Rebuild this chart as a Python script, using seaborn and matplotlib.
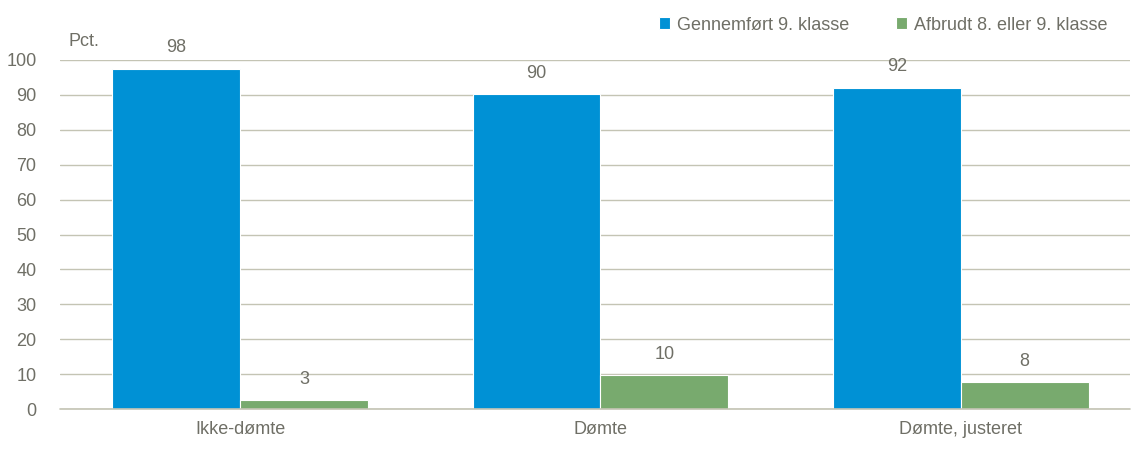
import matplotlib
matplotlib.use("Agg")
import matplotlib.pyplot as plt
import pandas as pd
import seaborn as sns

# Data
groups = ["Ikke-dømte", "Dømte", "Dømte, justeret"]
series = ["Gennemført 9. klasse", "Afbrudt 8. eller 9. klasse"]
completed = [97.5, 90.2, 92.1]
dropped = [2.5, 9.6, 7.6]
completed_labels = ["98", "90", "92"]
dropped_labels = ["3", "10", "8"]

colors = ["#0091d5", "#78aa6e"]
text_color = "#6f6f66"
grid_color = "#c4c4b4"

df = pd.DataFrame(
    {
        "group": groups * 2,
        "serie": [series[0]] * 3 + [series[1]] * 3,
        "value": completed + dropped,
    }
)

sns.set_theme(style="white")
plt.rcParams["font.family"] = ["Liberation Sans Narrow", "Liberation Sans", "DejaVu Sans"]

fig = plt.figure(figsize=(11.32, 4.5), dpi=100)
ax = fig.add_axes([60 / 1132, 1 - 409 / 450, 1070 / 1132, 349 / 450])

sns.barplot(
    data=df, x="group", y="value", hue="serie", hue_order=series,
    palette=colors, width=0.71, saturation=1, ax=ax,
    edgecolor="white", linewidth=0.8, legend=True,
)

# Value labels above the bars
for container, labs in zip(ax.containers, [completed_labels, dropped_labels]):
    ax.bar_label(container, labels=labs, padding=9, fontsize=13, color=text_color)

ax.set_ylim(0, 100)
ax.set_xlim(-0.5, 2.47)
ax.set_yticks(range(0, 101, 10))
ax.yaxis.grid(True, color=grid_color, linewidth=1)
ax.set_axisbelow(True)
# zero line drawn on top so it shows fully at the axis edge
ax.axhline(0, color=grid_color, linewidth=1.2, clip_on=False, zorder=3)
for s in ax.spines.values():
    s.set_visible(False)
ax.tick_params(axis="y", length=0, pad=17, labelsize=13, labelcolor=text_color)
ax.tick_params(axis="x", length=0, pad=9, labelsize=13, labelcolor=text_color)
ax.set_xlabel("")
ax.set_ylabel("")

fig.text(68 / 1132, 1 - 41 / 450, "Pct.", fontsize=13, color=text_color, va="center")

handles, labels = ax.get_legend_handles_labels()
ax.legend(
    handles, labels, loc="center right", bbox_to_anchor=(1124 / 1132, 1 - 25 / 450),
    bbox_transform=fig.transFigure, ncol=2, frameon=False, fontsize=13,
    handlelength=0.6, handleheight=0.6, handletextpad=0.4, columnspacing=2.6,
    labelcolor=text_color,
)

fig.savefig("out.png", dpi=100)
